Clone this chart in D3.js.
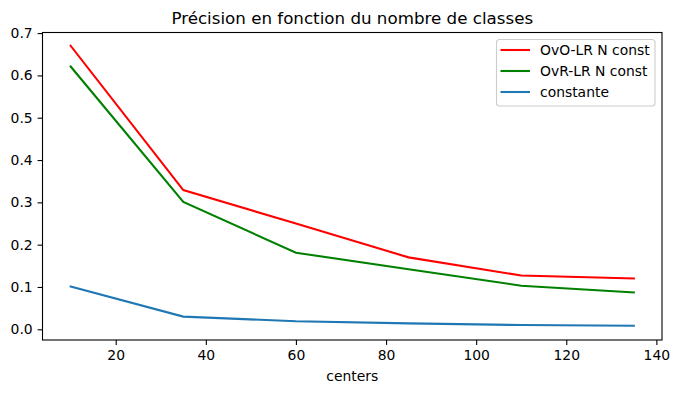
<!DOCTYPE html>
<html><head><meta charset="utf-8">
<script src="https://cdn.jsdelivr.net/npm/d3@7"></script>
<style>body{margin:0;background:#fff}svg{font-family:"DejaVu Sans",sans-serif}</style>
</head><body>
<svg id="c" width="679" height="393"></svg>
<script>
const centers = [10, 35, 60, 85, 110, 135];
const ovoLR = [0.670, 0.329, 0.250, 0.170, 0.127, 0.120];
const ovrLR = [0.621, 0.301, 0.181, 0.142, 0.103, 0.087];
const constante = [0.101, 0.030, 0.019, 0.014, 0.010, 0.0085];
const seriesNames = ["OvO-LR N const", "OvR-LR N const", "constante"];
const seriesColors = ["#ff0000", "#008000", "#1f77b4"];
const xTicks = [20, 40, 60, 80, 100, 120, 140];
const yTicks = [0.0, 0.1, 0.2, 0.3, 0.4, 0.5, 0.6, 0.7];

const svg = d3.select("#c");
const L = 42.5, R = 662, T = 32.5, B = 340;
const FS = 13.9;
const x = d3.scaleLinear().domain([3.75, 141.25]).range([L, R]);
const y = d3.scaleLinear().domain([-0.0253, 0.7014]).range([B, T]);

const series = [ovoLR, ovrLR, constante];
const line = d3.line().x((d, i) => x(centers[i])).y(d => y(d));
series.forEach((s, k) => {
  svg.append("path").datum(s).attr("d", line).attr("fill", "none")
    .attr("stroke", seriesColors[k]).attr("stroke-width", 2.08).attr("stroke-linecap", "square");
});

svg.append("rect").attr("x", L).attr("y", T).attr("width", R - L).attr("height", B - T)
  .attr("fill", "none").attr("stroke", "#000").attr("stroke-width", 1.1);

const xa = svg.append("g").attr("transform", `translate(0,${B})`)
  .call(d3.axisBottom(x).tickValues(xTicks).tickSize(4.9).tickPadding(4.9).tickFormat(d3.format("d")));
const ya = svg.append("g").attr("transform", `translate(${L},0)`)
  .call(d3.axisLeft(y).tickValues(yTicks).tickSize(4.9).tickPadding(4.9).tickFormat(d3.format(".1f")));
[xa, ya].forEach(a => {
  a.select(".domain").remove();
  a.selectAll("line").attr("stroke", "#000").attr("stroke-width", 1.1);
  a.selectAll("text").attr("font-size", FS).attr("fill", "#000").attr("font-family", "DejaVu Sans");
});

svg.append("text").attr("x", (L + R) / 2).attr("y", 24).attr("text-anchor", "middle")
  .attr("font-size", 16.7).text("Précision en fonction du nombre de classes");
svg.append("text").attr("x", (L + R) / 2).attr("y", 381).attr("text-anchor", "middle")
  .attr("font-size", FS).text("centers");

const lg = svg.append("g");
lg.append("rect").attr("x", 496.5).attr("y", 39.5).attr("width", 158.5).attr("height", 66.5)
  .attr("rx", 3).attr("fill", "#fff").attr("fill-opacity", 0.8).attr("stroke", "#ccc").attr("stroke-width", 1.1);
seriesNames.forEach((n, k) => {
  const yy = 50 + k * 21;
  lg.append("line").attr("x1", 500.5).attr("x2", 530).attr("y1", yy).attr("y2", yy)
    .attr("stroke", seriesColors[k]).attr("stroke-width", 2.08);
  lg.append("text").attr("x", 540).attr("y", yy + 5).attr("font-size", FS).text(n);
});
</script>
</body></html>
